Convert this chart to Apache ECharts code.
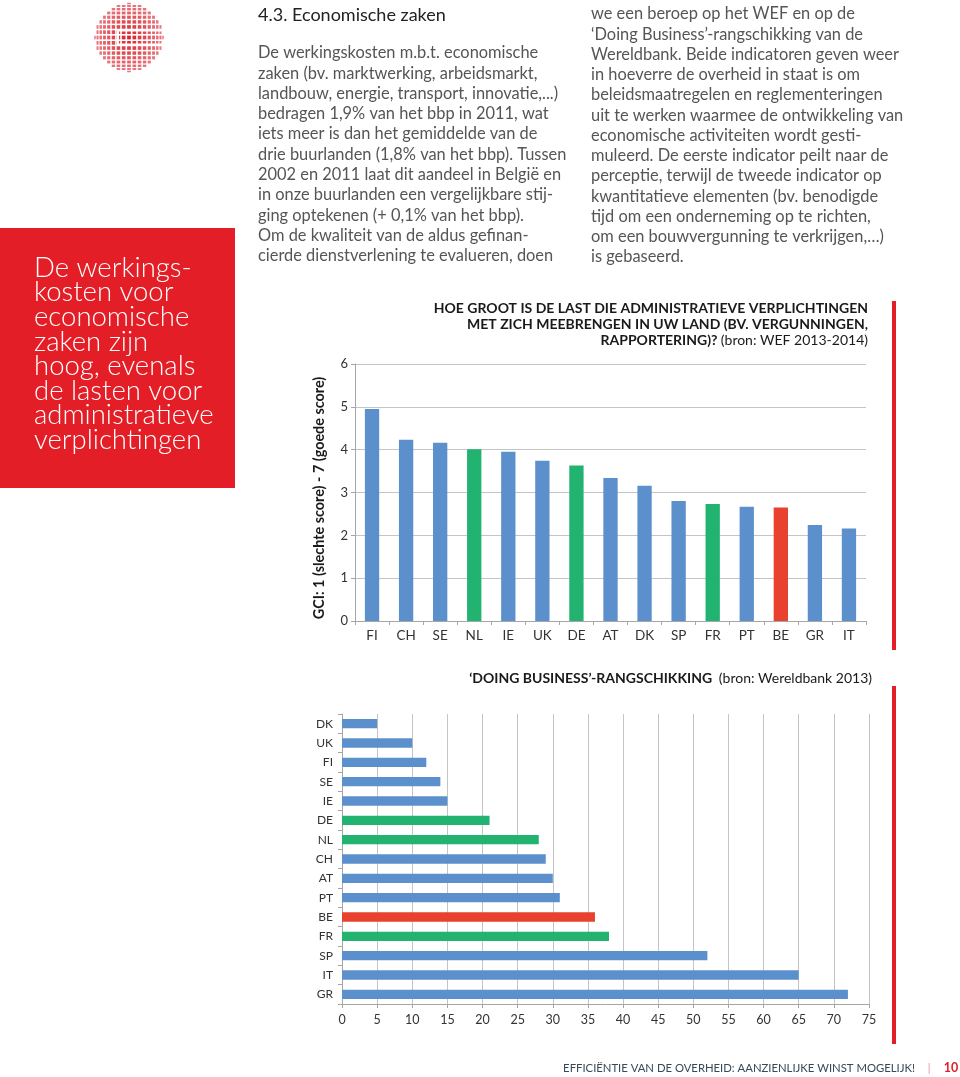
<!DOCTYPE html>
<html>
<head>
<meta charset="utf-8">
<script src="https://cdn.jsdelivr.net/npm/echarts@6/dist/echarts.min.js"></script>
<style>
html,body{margin:0;padding:0;background:#fff;}
#main{width:960px;height:1077px;}
</style>
</head>
<body>
<div id="main"></div>
<script>
// ---- data ----
const gciCategories = ['FI','CH','SE','NL','IE','UK','DE','AT','DK','SP','FR','PT','BE','GR','IT'];
const gciValues = [4.95,4.23,4.16,4.01,3.95,3.74,3.63,3.34,3.16,2.80,2.73,2.67,2.65,2.24,2.16];
const gciTicks = [0,1,2,3,4,5,6];
const dbCategories = ['DK','UK','FI','SE','IE','DE','NL','CH','AT','PT','BE','FR','SP','IT','GR'];
const dbValues = [5,10,12,14,15,21,28,29,30,31,36,38,52,65,72];
const dbTicks = [0,5,10,15,20,25,30,35,40,45,50,55,60,65,70,75];
const neighbourCountries = ['NL','DE','FR'];
const focusCountry = 'BE';

const heading = '4.3. Economische zaken';
const leftParagraph = [
 'De werkingskosten m.b.t. economische',
 'zaken (bv. marktwerking, arbeidsmarkt,',
 'landbouw, energie, transport, innovatie,...)',
 'bedragen 1,9% van het bbp in 2011, wat',
 'iets meer is dan het gemiddelde van de',
 'drie buurlanden (1,8% van het bbp). Tussen',
 '2002 en 2011 laat dit aandeel in België en',
 'in onze buurlanden een vergelijkbare stij-',
 'ging optekenen (+ 0,1% van het bbp).',
 'Om de kwaliteit van de aldus gefinan-',
 'cierde dienstverlening te evalueren, doen'
];
const rightParagraph = [
 'we een beroep op het WEF en op de',
 '\u2018Doing Business\u2019-rangschikking van de',
 'Wereldbank. Beide indicatoren geven weer',
 'in hoeverre de overheid in staat is om',
 'beleidsmaatregelen en reglementeringen',
 'uit te werken waarmee de ontwikkeling van',
 'economische activiteiten wordt gesti-',
 'muleerd. De eerste indicator peilt naar de',
 'perceptie, terwijl de tweede indicator op',
 'kwantitatieve elementen (bv. benodigde',
 'tijd om een onderneming op te richten,',
 'om een bouwvergunning te verkrijgen,\u2026)',
 'is gebaseerd.'
];
const boxLines = ['De werkings-','kosten voor','economische','zaken zijn','hoog, evenals','de lasten voor','administratieve','verplichtingen'];
const chart1TitleLines = ['HOE GROOT IS DE LAST DIE ADMINISTRATIEVE VERPLICHTINGEN','MET ZICH MEEBRENGEN IN UW LAND (BV. VERGUNNINGEN,'];
const chart1TitleLast = 'RAPPORTERING)?';
const chart1Source = '(bron: WEF 2013-2014)';
const chart2Title = '\u2018DOING BUSINESS\u2019-RANGSCHIKKING';
const chart2Source = '(bron: Wereldbank 2013)';
const yAxisName = 'GCI: 1 (slechte score) - 7 (goede score)';
const footerText = 'EFFICI\u00cbNTIE VAN DE OVERHEID: AANZIENLIJKE WINST MOGELIJK!';
const pageNumber = '10';

// ---- styles ----
const FONT = 'Lato, "Open Sans", sans-serif';
const BLUE = '#5b90cd', GREEN = '#21b36f', RED = '#e8412d', PAGE_RED = '#e31e27';
function barColor(c){ return c === focusCountry ? RED : (neighbourCountries.indexOf(c) >= 0 ? GREEN : BLUE); }

const graphics = [];
function txt(x, y, text, font, fill, align, extra){
  graphics.push(Object.assign({type:'text', x:x, y:y, silent:true,
    style:{text:text, font:font, fill:fill, align:align||'left', textAlign:align||'left', verticalAlign:'middle', textVerticalAlign:'middle'}}, extra||{}));
}
// heading + paragraphs
txt(258, 15, heading, '400 18px ' + FONT, '#222');
leftParagraph.forEach((l,i)=>txt(258, 53 + i*20.3, l, '400 16.4px ' + FONT, '#555'));
rightParagraph.forEach((l,i)=>txt(591, 14 + i*20.25, l, '400 16.4px ' + FONT, '#555'));
// red box
graphics.push({type:'rect', shape:{x:0,y:228,width:235,height:260}, style:{fill:PAGE_RED}, silent:true});
boxLines.forEach((l,i)=>txt(34, 268 + i*24.6, l, '300 27.5px ' + FONT, '#fff'));
// red vertical lines
graphics.push({type:'rect', shape:{x:892,y:301,width:4,height:349}, style:{fill:PAGE_RED}, silent:true});
graphics.push({type:'rect', shape:{x:892,y:686,width:4,height:358}, style:{fill:PAGE_RED}, silent:true});
// chart titles
chart1TitleLines.forEach((l,i)=>txt(868, 308 + i*16, l, '700 14px ' + FONT, '#1a1a1a', 'right'));
graphics.push({type:'text', x:868, y:340, silent:true, style:{
  text:'{b|' + chart1TitleLast + '} {n|' + chart1Source + '}', align:'right', textAlign:'right', verticalAlign:'middle', textVerticalAlign:'middle',
  rich:{b:{font:'700 14px ' + FONT, fill:'#1a1a1a'}, n:{font:'400 14px ' + FONT, fill:'#1a1a1a'}}}});
graphics.push({type:'text', x:872, y:678, silent:true, style:{
  text:'{b|' + chart2Title + '}  {n|' + chart2Source + '}', align:'right', textAlign:'right', verticalAlign:'middle', textVerticalAlign:'middle',
  rich:{b:{font:'700 14px ' + FONT, fill:'#1a1a1a'}, n:{font:'400 14px ' + FONT, fill:'#1a1a1a'}}}});
// footer
txt(915, 1068, footerText, '400 11.3px ' + FONT, '#34495a', 'right');
txt(929, 1068, '|', '300 11px ' + FONT, PAGE_RED, 'center');
txt(951, 1068, pageNumber, '700 12.5px ' + FONT, PAGE_RED, 'center');
// logo (decorative sphere of small tiles)
(function(){
  const cx = 129, cy = 37.5, R = 34, N = 8, amax = 1.15;
  const da = amax / N, sm = Math.sin(amax);
  for (let i = -N; i <= N; i++) for (let j = -N; j <= N; j++) {
    const ax = i*da, ay = j*da;
    const sx = Math.sin(ax)/sm, sy = Math.sin(ay)/sm;
    if (sx*sx + sy*sy > 1.0) continue;
    const px = cx + R*sx, py = cy + R*sy;
    const w = R*Math.cos(ax)*da/sm*0.7, h = R*Math.cos(ay)*da/sm*0.7;
    const d = Math.sqrt(sx*sx + sy*sy);
    graphics.push({type:'rect', silent:true, shape:{x:px - w/2, y:py - h/2, width:w, height:h},
      style:{fill:'#d91f2a', opacity: 1 - d*0.4}});
  }
  graphics.push({type:'rect', silent:true, z:10, shape:{x:cx-10, y:cy-8.4, width:R+12, height:2.3}, style:{fill:'#fff'}});
  graphics.push({type:'rect', silent:true, z:10, shape:{x:cx-10, y:cy+6.1, width:R+12, height:2.3}, style:{fill:'#fff'}});
  graphics.push({type:'rect', silent:true, z:10, shape:{x:cx-12.3, y:cy-8.4, width:2.3, height:16.8}, style:{fill:'#fff'}});
})();

const axisGray = '#a6a6a6', gridGray = '#c4c4c4', labelColor = '#333';
const option = {
  animation:false,
  backgroundColor:'#fff',
  textStyle:{fontFamily:FONT},
  graphic:{elements:graphics},
  grid:[
    {left:355, right:94, top:364, bottom:456, containLabel:false},
    {left:342, right:91, top:714, bottom:73, containLabel:false}
  ],
  xAxis:[
    {type:'category', gridIndex:0, data:gciCategories,
     axisLine:{lineStyle:{color:axisGray}}, axisTick:{show:true, length:4, lineStyle:{color:axisGray}},
     axisLabel:{color:labelColor, fontSize:13.5, margin:8, fontFamily:FONT}},
    {type:'value', gridIndex:1, min:0, max:75, interval:5,
     axisLine:{show:true, lineStyle:{color:axisGray}}, axisTick:{show:true, length:4, lineStyle:{color:axisGray}},
     splitLine:{show:true, lineStyle:{color:gridGray}},
     axisLabel:{color:labelColor, fontSize:12.5, margin:9, fontFamily:FONT, formatter:(v)=>dbTicks.indexOf(v)>=0?String(v):''}}
  ],
  yAxis:[
    {type:'value', gridIndex:0, min:0, max:6, interval:1,
     name:yAxisName, nameLocation:'middle', nameRotate:90, nameGap:29,
     nameTextStyle:{fontSize:14.4, fontWeight:700, color:'#1a1a1a', fontFamily:FONT, padding:[0,11,0,0]},
     axisLine:{show:true, lineStyle:{color:axisGray}}, axisTick:{show:true, length:4, lineStyle:{color:axisGray}},
     splitLine:{show:true, lineStyle:{color:gridGray}},
     axisLabel:{color:labelColor, fontSize:13, margin:7, fontFamily:FONT, formatter:(v)=>gciTicks.indexOf(v)>=0?String(v):''}},
    {type:'category', gridIndex:1, data:dbCategories, inverse:true,
     axisLine:{show:true, lineStyle:{color:axisGray}}, axisTick:{show:true, length:4, lineStyle:{color:axisGray}},
     axisLabel:{color:labelColor, fontSize:12, margin:9, fontFamily:FONT}}
  ],
  series:[
    {type:'bar', xAxisIndex:0, yAxisIndex:0, barCategoryGap:'58%',
     data:gciValues.map((v,i)=>({value:v, itemStyle:{color:barColor(gciCategories[i])}}))},
    {type:'bar', xAxisIndex:1, yAxisIndex:1, barCategoryGap:'52%',
     data:dbValues.map((v,i)=>({value:v, itemStyle:{color:barColor(dbCategories[i])}}))}
  ]
};
const chart = echarts.init(document.getElementById('main'), null, {renderer:'canvas'});
chart.setOption(option);
</script>
</body>
</html>
